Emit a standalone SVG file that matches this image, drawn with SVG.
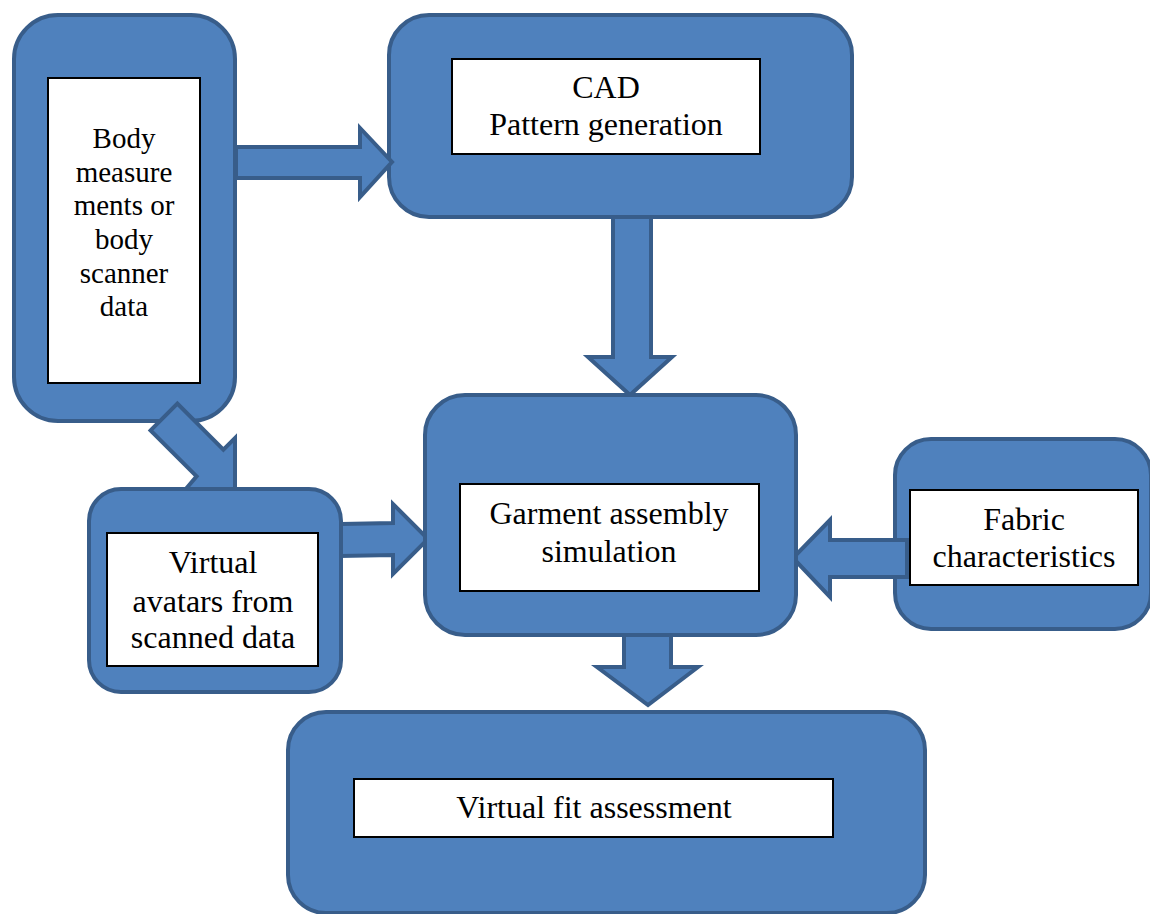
<svg xmlns="http://www.w3.org/2000/svg" width="1150" height="914" viewBox="0 0 1150 914">
<style>
.box{fill:#4F81BD;stroke:#385D8A;stroke-width:4}
.inner{fill:#FFFFFF;stroke:#000000;stroke-width:2}
.arrow{fill:#4F81BD;stroke:#385D8A;stroke-width:4;stroke-linejoin:miter}
.t{font-family:'Liberation Serif','Tinos','Times New Roman','DejaVu Serif',serif;font-size:32px;fill:#000000;text-anchor:middle}
.ts{font-family:'Liberation Serif','Tinos','Times New Roman','DejaVu Serif',serif;font-size:29px;fill:#000000;text-anchor:middle}
</style>
<rect x="0" y="0" width="1150" height="914" fill="#FFFFFF"/>
<g id="node-body">
<rect class="box" x="14" y="15" width="221" height="406" rx="44"/>
<rect class="inner" x="48" y="78" width="152" height="305"/>
<text class="ts" x="124" y="148">Body</text>
<text class="ts" x="124" y="182">measure</text>
<text class="ts" x="124" y="215">ments or</text>
<text class="ts" x="124" y="249">body</text>
<text class="ts" x="124" y="283">scanner</text>
<text class="ts" x="124" y="316">data</text>
</g>
<g id="node-cad">
<rect class="box" x="389" y="15" width="463" height="202" rx="40"/>
<rect class="inner" x="452" y="59" width="308" height="95"/>
<text class="t" x="606" y="98">CAD</text>
<text class="t" x="606" y="135">Pattern generation</text>
</g>
<g id="node-fabric">
<rect class="box" x="895" y="439" width="256" height="190" rx="36"/>
<rect class="inner" x="910" y="490" width="228" height="95"/>
<text class="t" x="1024" y="530">Fabric</text>
<text class="t" x="1024" y="567">characteristics</text>
</g>
<g id="connectors">
<polygon class="arrow" points="236,147 360,147 360,128 392,162 360,197 360,178 236,178"/>
<polygon class="arrow" points="613,217 651,217 651,357 672,357 630,395 588,357 613,357"/>
<polygon class="arrow" points="150.6,430.4 177.4,403.6 223.4,449.6 235,438 235,490 185,490 196.6,476.4"/>
<polygon class="arrow" points="341,524 393,523 393,504 428,539 393,574 393,555 341,556"/>
<polygon class="arrow" points="907,540 830,540 830,520 793,558 830,597 830,577 907,577"/>
<polygon class="arrow" points="624,633 671,633 671,667 698,667 648,705 597,667 624,667"/>
</g>
<g id="node-avatars">
<rect class="box" x="89" y="489" width="252" height="203" rx="32"/>
<rect class="inner" x="107" y="533" width="211" height="133"/>
<text class="t" x="213" y="573">Virtual</text>
<text class="t" x="213" y="612">avatars from</text>
<text class="t" x="213" y="648">scanned data</text>
</g>
<g id="node-garment">
<rect class="box" x="425" y="395" width="371" height="240" rx="40"/>
<rect class="inner" x="460" y="484" width="299" height="107"/>
<text class="t" x="609" y="524">Garment assembly</text>
<text class="t" x="609" y="562">simulation</text>
</g>
<g id="node-fit">
<rect class="box" x="288" y="712" width="637" height="201" rx="38"/>
<rect class="inner" x="354" y="779" width="479" height="58"/>
<text class="t" x="594" y="818">Virtual fit assessment</text>
</g>
</svg>
